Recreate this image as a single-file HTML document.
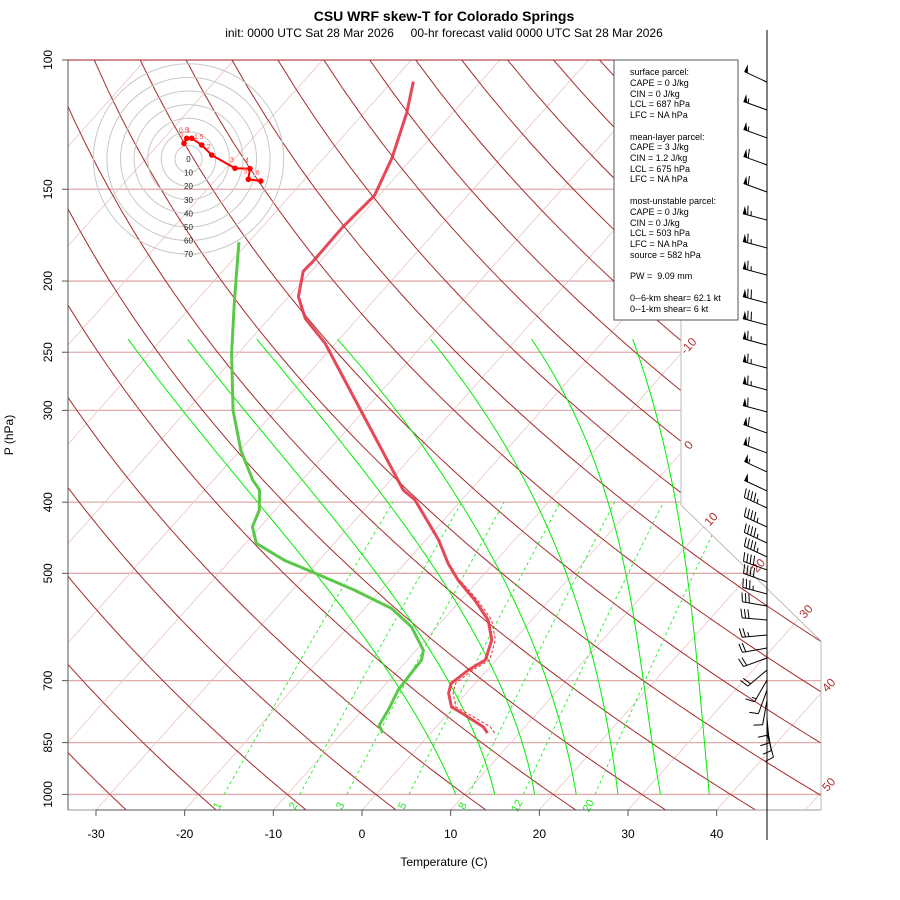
<!DOCTYPE html>
<html><head><meta charset="utf-8"><title>CSU WRF skew-T</title>
<style>
html,body{margin:0;padding:0;background:#fff}
svg{display:block;font-family:"Liberation Sans",Arial,sans-serif}
</style></head>
<body>
<svg id="chart" width="900" height="900" viewBox="0 0 900 900" xmlns="http://www.w3.org/2000/svg">
<defs><clipPath id="plotclip"><polygon points="68,810 821,810 821,641 681,505 681,60 68,60"/></clipPath></defs>
<rect x="0" y="0" width="900" height="900" fill="#fff"/>
<text x="444" y="21" text-anchor="middle" font-size="14" font-weight="bold">CSU WRF skew-T for Colorado Springs</text>
<text x="444" y="37" text-anchor="middle" font-size="12" style="white-space:pre" xml:space="preserve">init: 0000 UTC Sat 28 Mar 2026     00-hr forecast valid 0000 UTC Sat 28 Mar 2026</text>
<g id="grid" clip-path="url(#plotclip)"></g>
<g id="frame"></g>
<g id="series" clip-path="url(#plotclip)"></g>
<g id="axes"></g>
<g id="hodo"></g>
<g id="legend">
<rect x="614" y="60" width="124" height="260" fill="#fff" stroke="#555" stroke-width="1"/>
<g font-size="9" fill="#000">
<text x="630" y="75">surface parcel:</text>
<text x="630" y="86">CAPE = 0 J/kg</text>
<text x="630" y="97">CIN = 0 J/kg</text>
<text x="630" y="107">LCL = 687 hPa</text>
<text x="630" y="118">LFC = NA hPa</text>
<text x="630" y="140">mean-layer parcel:</text>
<text x="630" y="150">CAPE = 3 J/kg</text>
<text x="630" y="161">CIN = 1.2 J/kg</text>
<text x="630" y="172">LCL = 675 hPa</text>
<text x="630" y="182">LFC = NA hPa</text>
<text x="630" y="204">most-unstable parcel:</text>
<text x="630" y="215">CAPE = 0 J/kg</text>
<text x="630" y="226">CIN = 0 J/kg</text>
<text x="630" y="236">LCL = 503 hPa</text>
<text x="630" y="247">LFC = NA hPa</text>
<text x="630" y="258">source = 582 hPa</text>
<text x="630" y="279" style="white-space:pre" xml:space="preserve">PW =  9.09 mm</text>
<text x="630" y="301">0--6-km shear= 62.1 kt</text>
<text x="630" y="312">0--1-km shear= 6 kt</text>
</g></g>
<g id="barbs"></g>
<text x="444" y="866" text-anchor="middle" font-size="12">Temperature (C)</text>
<text x="0" y="0" transform="translate(13,435) rotate(-90)" text-anchor="middle" font-size="12">P (hPa)</text>
</svg>
<script>
// ---- data ----
const tempP = [825,809,775,760,728,706,677,656,616,579,544,511,485,450,427,397,385,300,243,225,210,194,188,169,153,136,118,107];
const tempT = [6.4,5.3,1.5,-0.3,-2.0,-2.7,-2.1,-1.2,-2.5,-4.9,-8.4,-12.3,-15.1,-18.6,-21.4,-25.3,-27.6,-40.4,-51.2,-55.9,-58.9,-60.9,-60.8,-60.9,-60.5,-62.3,-65.2,-67.6];
const dewP = [825,805,768,721,691,656,636,591,558,527,497,480,455,432,410,385,373,340,300,251,212,177];
const dewT = [-5.4,-6.6,-7.1,-8.0,-8.2,-8.4,-9.2,-12.9,-17.0,-23.0,-29.8,-33.9,-38.8,-40.9,-41.8,-43.8,-45.6,-49.9,-54.8,-60.7,-65.8,-71.1];
const virtP = [825,809,775,760,728,706,677,656,616,579,544,511];
const virtT = [7.2,6.1,2.1,0.2,-1.5,-2.2,-1.6,-0.7,-2.1,-4.5,-8.1,-12.1];
const windP = [107.2,117,127.7,139,151.3,165.2,180.3,196.3,214.3,229.6,244.5,262.7,281.4,301.5,322.1,342.8,363.9,386.2,407.4,432.5,454.7,474.9,494.7,513.7,533.4,554,578.8,606.7,631.9,652,677,698.7,721,744,768,787,807,825];
const windSpd = [50,55,55,60,60,65,65,65,70,70,65,65,65,60,60,60,55,50,45,45,45,45,40,40,35,30,30,25,20,20,20,15,10,10,10,10,10,10];
const windDir = [295,290,290,290,290,285,285,285,285,285,285,285,285,285,290,290,295,295,295,295,295,295,290,290,285,280,275,265,260,250,230,210,200,190,180,175,170,165];
const hodoU = [-3.3,-1.3,2.4,9.7,17.1,34.2,45.2,44.0,53.1];
const hodoV = [11.5,15.2,15.2,10.3,2.9,-6.8,-7.1,-14.9,-16.2];
const hodoLab = ['0','0.5','1','1.5','2','3','4','5','6'];
const hodoRings = [10,20,30,40,50,60,70];
const pressTicks = [100,150,200,250,300,400,500,700,850,1000];
const tempTicks = [-30,-20,-10,0,10,20,30,40];
const isotherms = [-100,-90,-80,-70,-60,-50,-40,-30,-20,-10,0,10,20,30,40,50];
const isoLabels = [-10,0,10,20,30,40,50];
const dryThetas = [-30,-20,-10,0,10,20,30,40,50,60,70,80,90,100,110,120,130,140,150,160,170];
const mixRatios = [1,2,3,5,8,12,20];
const moistP = [1000,500,300,240];
const moist1 = [9.0,-29.1,-60.5,-73.8];
const moist2 = [13.4,-22.2,-53.5,-67.1];
const moist3 = [17.9,-15.3,-45.5,-59.3];
const moist4 = [22.6,-8.2,-36.4,-50.2];
const moist5 = [27.3,-0.8,-26.6,-39.7];
const moist6 = [32.1,5.9,-16.5,-28.3];
const moist7 = [37.6,12.8,-7.2,-16.9];
const moistLines = [moist1,moist2,moist3,moist4,moist5,moist6,moist7];

// ---- axis functions ----
const NS='http://www.w3.org/2000/svg';
function yu(p){return 132.182-44.061*Math.log10(p);}
function X(T,p){return 362+(0.54*T+0.90692*yu(p)+0.8476)*16.42;}
function Y(p){return 810-(yu(p)+0.9346)*16.67;}
function mk(tag,attrs,parent){const e=document.createElementNS(NS,tag);for(const k in attrs)e.setAttribute(k,attrs[k]);parent.appendChild(e);return e;}
function pathOf(pts){return pts.map((q,i)=>(i?'L':'M')+q[0].toFixed(2)+','+q[1].toFixed(2)).join('');}
const grid=document.getElementById('grid');
const frame=document.getElementById('frame');
const series=document.getElementById('series');
const axes=document.getElementById('axes');

pressTicks.forEach(p=>{
  const l=mk('line',{x1:68,x2:821,y1:Y(p),y2:Y(p),stroke:'#dfaaaa','stroke-width':1.3},grid);
  
  
});
isotherms.forEach(t=>{
  const l=mk('line',{x1:X(t,1050),y1:Y(1050),x2:X(t,100),y2:Y(100),stroke:'#ebc4c4','stroke-width':0.8},grid);
  
  
});
dryThetas.forEach(th=>{
  const pts=[];
  for(let p=1050;p>=100;p-=10){const T=(th+273.15)*Math.pow(p/1000,0.2857)-273.15;pts.push([X(T,p),Y(p)]);}
  const e=mk('path',{d:pathOf(pts),fill:'none',stroke:'#a52a2a','stroke-width':1},grid);
  
  
});
function lagrange(xs,ys,x){let s=0;for(let i=0;i<xs.length;i++){let t=ys[i];for(let j=0;j<xs.length;j++)if(j!==i)t*=(x-xs[j])/(xs[i]-xs[j]);s+=t;}return s;}
const moistYu=moistP.map(yu);
moistLines.forEach((arr,k)=>{
  const pts=[];
  for(let p=1000;p>=240;p-=10){const T=lagrange(moistYu,arr,yu(p));pts.push([X(T,p),Y(p)]);}
  const e=mk('path',{d:pathOf(pts),fill:'none',stroke:'#00ee00','stroke-width':1},grid);
  
  
});
function tdFromW(w,p){const e=w*p/(622+w);const l=Math.log(e/6.112);return 243.5*l/(17.67-l);}
mixRatios.forEach(w=>{
  const pts=[];
  for(let p=1000;p>=400;p-=20)pts.push([X(tdFromW(w,p),p),Y(p)]);
  const e=mk('path',{d:pathOf(pts),fill:'none',stroke:'#22ee22','stroke-width':0.9,'stroke-dasharray':'3,3'},grid);
  
  
  const x=X(tdFromW(w,1000),1000)-6, y=806;
  const t=mk('text',{x:0,y:0,transform:`translate(${x.toFixed(1)},${y}) rotate(-62)`,'font-size':11,fill:'#22ee22','text-anchor':'middle','dominant-baseline':'middle'},frame);
  t.textContent=String(w);
  
  
});
mk('polyline',{points:'681,60 681,505 821,641 821,810',fill:'none',stroke:'#bbbbbb','stroke-width':1},frame);
mk('line',{x1:68,x2:681,y1:60,y2:60,stroke:'#a52a2a','stroke-width':1},frame);
mk('line',{x1:68,x2:821,y1:810,y2:810,stroke:'#999','stroke-width':1},frame);
function inside(x,y){if(x<68||x>821.5||y<60||y>810.5)return false;if(y<505)return x<=681.5;if(y<641){const xb=681+(y-505)*(140/136);return x<=xb+0.5;}return true;}
isoLabels.forEach(t=>{
  let ex=null,ey=null;
  for(let p=1040;p>=100;p-=0.5){const x=X(t,p),y=Y(p);if(!inside(x,y)){if(ex!==null)break;else continue;}ex=x;ey=y;}
  if(ex===null)return;
  const lab=mk('text',{x:0,y:0,transform:`translate(${(ex+8).toFixed(1)},${(ey-7).toFixed(1)}) rotate(-48)`,'font-size':12,fill:'#b03030','text-anchor':'middle','dominant-baseline':'middle'},frame);
  lab.textContent=String(t);
  
  
});

const vt=mk('path',{d:pathOf(virtP.map((p,i)=>[X(virtT[i],p),Y(p)])),fill:'none',stroke:'#e8303f','stroke-width':1,'stroke-dasharray':'3,2'},series);


const tl=mk('path',{d:pathOf(tempP.map((p,i)=>[X(tempT[i],p),Y(p)])),fill:'none',stroke:'#e33445','stroke-width':3,'stroke-opacity':0.9,'stroke-linejoin':'round'},series);


const dl=mk('path',{d:pathOf(dewP.map((p,i)=>[X(dewT[i],p),Y(p)])),fill:'none',stroke:'#5cc84a','stroke-width':3,'stroke-linejoin':'round'},series);



mk('line',{x1:68,x2:68,y1:60,y2:810,stroke:'#555','stroke-width':1},axes);
pressTicks.forEach(p=>{
  mk('line',{x1:62,x2:68,y1:Y(p),y2:Y(p),stroke:'#555'},axes);
  const t=mk('text',{x:0,y:0,transform:`translate(52,${Y(p).toFixed(1)}) rotate(-90)`,'font-size':12,'text-anchor':'middle'},axes);
  t.textContent=String(p);
  
  
});
const tx=tempTicks.map(t=>X(t,1050));
mk('line',{x1:tx[0],x2:tx[tx.length-1],y1:810,y2:810,stroke:'#555'},axes);
tempTicks.forEach((t,i)=>{
  mk('line',{x1:tx[i],x2:tx[i],y1:810,y2:816,stroke:'#555'},axes);
  const l=mk('text',{x:tx[i],y:838,'font-size':12,'text-anchor':'middle'},axes);
  l.textContent=String(t);
  
  
});

const hodo=document.getElementById('hodo');
const hcx=188.5,hcy=159,hs=1.36;
hodoRings.forEach(r=>{
  const c=mk('circle',{cx:hcx,cy:hcy,r:r*hs,fill:'none',stroke:'#c8c8c8','stroke-width':1},hodo);
  
  
});
[0].concat(hodoRings).forEach(r=>{
  const t=mk('text',{x:hcx,y:hcy+r*hs+3,'font-size':8,'text-anchor':'middle',fill:'#222'},hodo);
  t.textContent=String(r);
  
  
});
const hpts=hodoU.map((u,i)=>[hcx+u*hs,hcy-hodoV[i]*hs]);
const hl=mk('path',{d:pathOf(hpts),fill:'none',stroke:'#ff0000','stroke-width':2},hodo);


hpts.forEach((q,i)=>{
  const c=mk('circle',{cx:q[0],cy:q[1],r:2.8,fill:'#ff0000'},hodo);
  
  
  const t=mk('text',{x:q[0]-3,y:q[1]-6,'font-size':7,'text-anchor':'middle',fill:'#ff4040'},hodo);
  t.textContent=hodoLab[i];
  
  
});

const barbs=document.getElementById('barbs');
mk('line',{x1:767,x2:767,y1:30,y2:840,stroke:'#000','stroke-width':1},barbs);
windP.forEach((p,i)=>{
  const ax=767, ay=Y(p), L=25, d=windDir[i]*Math.PI/180;
  const ux=Math.sin(d), uy=-Math.cos(d);
  const fx=-uy, fy=ux;
  const g=mk('g',{},barbs);
  
  
  const tx=ax+ux*L, ty=ay+uy*L;
  mk('line',{x1:ax,y1:ay,x2:tx,y2:ty,stroke:'#000','stroke-width':1},g);
  let s=Math.round(windSpd[i]/5)*5, pos=0;
  while(s>=50){
    const px=tx-ux*pos, py=ty-uy*pos;
    mk('polygon',{points:`${px},${py} ${px-ux*4},${py-uy*4} ${px+fx*8},${py+fy*8}`,fill:'#000'},g);
    pos+=5; s-=50;
  }
  while(s>=10){
    const px=tx-ux*pos, py=ty-uy*pos;
    mk('line',{x1:px,y1:py,x2:px+fx*9+ux*2,y2:py+fy*9+uy*2,stroke:'#000','stroke-width':1},g);
    pos+=3.5; s-=10;
  }
  if(s>=5){
    if(pos===0)pos=3;
    const px=tx-ux*pos, py=ty-uy*pos;
    mk('line',{x1:px,y1:py,x2:px+fx*4.5+ux*1,y2:py+fy*4.5+uy*1,stroke:'#000','stroke-width':1},g);
  }
});
</script>
</body></html>
